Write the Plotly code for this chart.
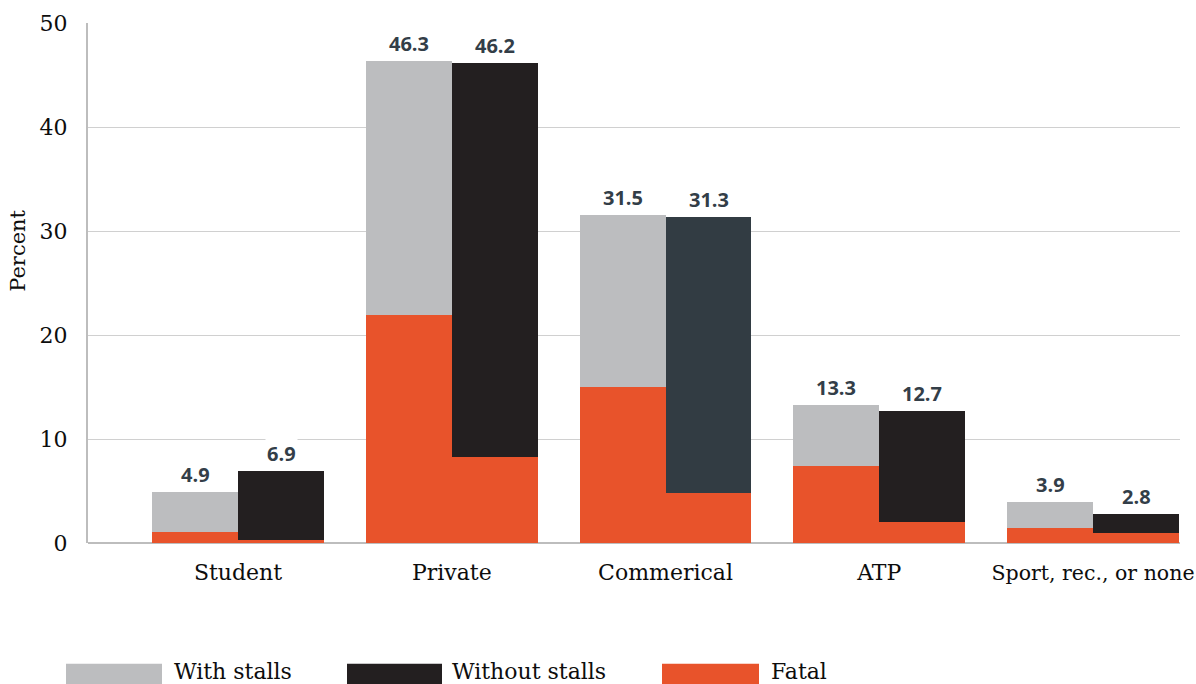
import plotly.graph_objects as go

categories = ["Student", "Private", "Commerical", "ATP", "Sport, rec., or none"]
with_stalls = [4.9, 46.3, 31.5, 13.3, 3.9]
without_stalls = [6.9, 46.2, 31.3, 12.7, 2.8]
fatal_with = [1.1, 21.9, 15.0, 7.4, 1.4]
fatal_without = [0.3, 8.3, 4.8, 2.0, 1.0]
y_ticks = [0, 10, 20, 30, 40, 50]

GRAY = "#bcbdbf"
BLACK = "#231f20"
SLATE = "#323c43"
ORANGE = "#e8532b"
LABEL = "#333e48"
SERIF = "DejaVu Serif"
SANS = "Open Sans"
TXT = "#0d0d0d"

W = 0.402
black_colors = [SLATE if c == "Commerical" else BLACK for c in categories]
tick_text = [c if len(c) < 12 else f'<span style="font-size:20.5px">{c}</span>' for c in categories]

fig = go.Figure()
fig.add_trace(go.Bar(x=categories, y=with_stalls, name="With stalls", marker_color=GRAY,
                     width=W, offset=-W, marker_line_width=0, showlegend=False))
fig.add_trace(go.Bar(x=categories, y=without_stalls, name="Without stalls", marker_color=black_colors,
                     width=W, offset=0, marker_line_width=0, showlegend=False))
fig.add_trace(go.Bar(x=categories, y=fatal_with, name="Fatal", marker_color=ORANGE,
                     width=W, offset=-W, marker_line_width=0, showlegend=False))
fig.add_trace(go.Bar(x=categories, y=fatal_without, name="Fatal", marker_color=ORANGE,
                     width=W, offset=0, marker_line_width=0, showlegend=False))

# value labels
for cat, v in zip(categories, with_stalls):
    fig.add_annotation(x=cat, y=v, xshift=-43, yshift=2, text=f"<b>{v}</b>", showarrow=False,
                       yanchor="bottom", xanchor="center", bgcolor="white", borderpad=1,
                       font=dict(family=SANS, size=20, color=LABEL, weight=800))
for cat, v in zip(categories, without_stalls):
    fig.add_annotation(x=cat, y=v, xshift=43, yshift=2, text=f"<b>{v}</b>", showarrow=False,
                       yanchor="bottom", xanchor="center", bgcolor="white", borderpad=1,
                       font=dict(family=SANS, size=20, color=LABEL, weight=800))

# y-axis title
fig.add_annotation(xref="paper", yref="paper", x=(18 - 88) / 1092, y=0.562, text="Percent",
                   textangle=-90, showarrow=False, xanchor="center", yanchor="middle",
                   font=dict(family=SERIF, size=21, color=TXT))

# custom legend
def px_x(p):
    return (p - 88) / 1092

def px_y(p):
    return -(p - 543.3) / 520.3

legend_items = [("With stalls", GRAY, 66, 162, 172), ("Without stalls", BLACK, 347, 442, 450),
                ("Fatal", ORANGE, 662, 759, 769)]
for label, col, x0, x1, tx in legend_items:
    fig.add_shape(type="rect", xref="paper", yref="paper", x0=px_x(x0), x1=px_x(x1),
                  y0=px_y(664), y1=px_y(686), fillcolor=col, line_width=0)
    fig.add_annotation(xref="paper", yref="paper", x=px_x(tx), y=px_y(672), text=label,
                       showarrow=False, xanchor="left", yanchor="middle",
                       font=dict(family=SERIF, size=22, color=TXT))

fig.update_layout(
    width=1196, height=684,
    margin=dict(l=88, r=16, t=23, b=141, autoexpand=False),
    plot_bgcolor="white", paper_bgcolor="white",
    barmode="overlay", bargap=0,
    xaxis=dict(range=[-0.7018, 4.407], showgrid=False, showline=False, zeroline=False,
               tickvals=categories, ticktext=tick_text,
               ticks="", tickfont=dict(family=SERIF, size=22, color=TXT),
               ticklabelstandoff=14, automargin=False),
    yaxis=dict(range=[0, 50], tickvals=y_ticks, showgrid=True, gridcolor="#d0d0d0", gridwidth=1,
               showline=True, linecolor="#bdbdbd", linewidth=2, zeroline=True,
               zerolinecolor="#bdbdbd", zerolinewidth=2, ticks="",
               tickfont=dict(family=SERIF, size=22, color=TXT), ticklabelstandoff=14,
               automargin=False),
    showlegend=False,
)

fig.write_html("out.html", config={"displayModeBar": False},
               post_script="document.body.style.margin='0';document.body.style.overflow='hidden';")
